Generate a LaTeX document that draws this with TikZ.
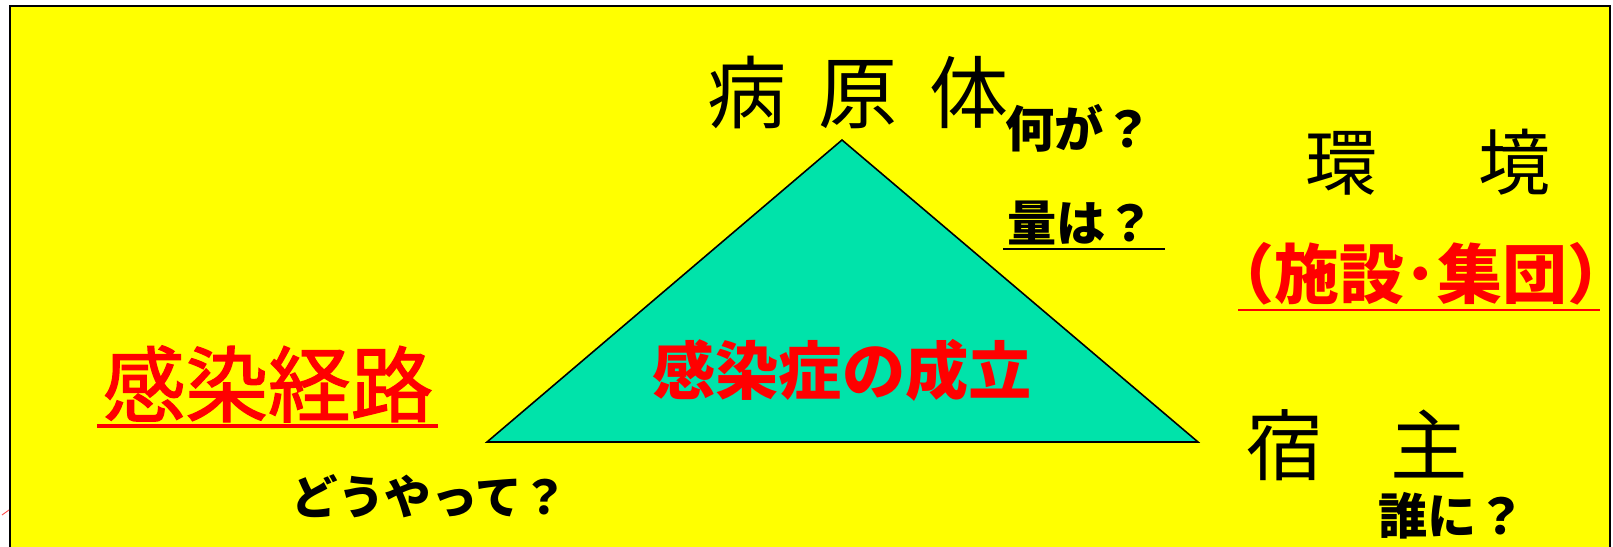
\documentclass[tikz,border=0pt]{standalone}
\usepackage{fontspec}
\newfontfamily\jp{Noto Sans CJK JP}
\newfontfamily\jpm[FakeBold=1.6]{Noto Sans CJK JP}
\definecolor{bgyellow}{RGB}{255,255,0}
\definecolor{tri}{RGB}{0,227,170}
\definecolor{myred}{RGB}{255,0,0}
\tikzset{
  lbl/.style={inner sep=0pt, font=\jp},
  blk/.style={lbl, text=black},
  rd/.style={lbl, text=myred},
}
\begin{document}
\begin{tikzpicture}[x=0.02cm,y=-0.02cm]
\useasboundingbox (0,0) rectangle (1613,547);
\clip (0,0) rectangle (1613,547);
\fill[white] (0,0) rectangle (1613,547);
\draw[fill=bgyellow, line width=1.2pt] (10,6) rectangle (1610,570);
% triangle
\coordinate (apex) at (842,140);
\coordinate (bl) at (487,442);
\coordinate (br) at (1198,442);
\draw[fill=tri, line width=0.9pt, line join=miter] (apex) -- (bl) -- (br) -- cycle;
% texts
\node[blk, font=\jp\fontsize{45}{45}\selectfont] (pathogen) at (858,92) {病\kern18pt 原\kern18pt 体};
\node[blk, font=\jp\bfseries\fontsize{28}{28}\selectfont] (what) at (1079,128) {何が？};
\node[blk, font=\jp\bfseries\fontsize{28}{28}\selectfont] (amount) at (1081,223) {量は？};
\coordinate (u1a) at (1003,249); \coordinate (u1b) at (1165,249);
\draw[line width=1.3pt] (u1a) -- (u1b);
\node[blk, font=\jp\fontsize{41}{41}\selectfont] (env) at (1428,162) {環\kern58pt 境};
\node[rd, font=\jp\bfseries\fontsize{37}{37}\selectfont] (facility) at (1421,274) {（施設･集団）};
\coordinate (u2a) at (1238,310); \coordinate (u2b) at (1600,310);
\draw[myred, line width=1.7pt] (u2a) -- (u2b);
\node[rd, font=\jpm\fontsize{47}{47}\selectfont] (route) at (268,384) {感染経路};
\coordinate (u3a) at (97,426); \coordinate (u3b) at (438,426);
\draw[myred, line width=2pt] (u3a) -- (u3b);
\node[rd, font=\jp\bfseries\fontsize{36}{36}\selectfont] (onset) at (842,370) {感染症の成立};
\node[blk, font=\jp\fontsize{44}{44}\selectfont] (host) at (1357,445) {宿\kern38pt 主};
\node[blk, font=\jp\bfseries\fontsize{28}{28}\selectfont] (who) at (1452,516) {誰に？};
\node[blk, font=\jp\bfseries\fontsize{26.5}{26.5}\selectfont] (how) at (430,496) {どうやって？};
% small red stroke at left edge
\coordinate (m1) at (2,515); \coordinate (m2) at (9,510);
\draw[myred!70!white, line width=0.5pt] (m1) -- (m2);
\end{tikzpicture}
\end{document}
